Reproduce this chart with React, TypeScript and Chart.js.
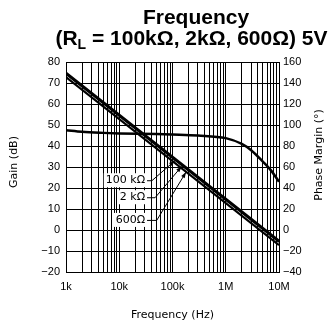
import React, { useEffect, useRef } from "react";
import { Chart, registerables } from "chart.js";

Chart.register(...registerables);

// ---- data ----
const gainFreq = [1e3, 1e4, 1e5, 1e6, 1e7];
const gain100k = [75, 55, 35, 15, -5];
const gain2k = [74.3, 54.3, 34.3, 14.3, -5.7];
const gain600 = [72.8, 52.8, 32.8, 12.8, -7.2];

const phaseFreq = [1e3, 2e3, 5e3, 1e4, 5e4, 1e5, 3e5, 1e6, 2e6, 3e6, 5e6, 7e6, 1e7];
const phaseMargin = [95, 93.5, 92.5, 92, 91.5, 91, 90, 87.5, 82, 76, 65, 57, 46];

const xMajorTicks = [1e3, 1e4, 1e5, 1e6, 1e7];
const xMajorLabels = ["1k", "10k", "100k", "1M", "10M"];
const xMinorSteps = [2, 3, 4, 5, 6, 7, 8, 9];

const gainTicks = [80, 70, 60, 50, 40, 30, 20, 10, 0, -10, -20];
const gainLabels = ["80", "70", "60", "50", "40", "30", "20", "10", "0", "\u221210", "\u221220"];
const phaseTicks = [160, 140, 120, 100, 80, 60, 40, 20, 0, -20, -40];
const phaseLabels = ["160", "140", "120", "100", "80", "60", "40", "20", "0", "\u221220", "\u221240"];

const loadLabels = ["100 k\u03a9", "2 k\u03a9", "600\u03a9"];
// annotation anchors in data coordinates (label right edge / elbow / arrow tip)
const labelFreq = [30.5e3, 30.5e3, 30.5e3];
const labelGain = [23.7, 15.6, 4.8];
const elbowFreq = [41e3, 47e3, 50.5e3];
const tipFreq = [111e3, 149e3, 180e3];
const tipGain = [33.0, 30.3, 27.6];

const TICK_FONT = "Liberation Sans";
const TEXT_FONT = "DejaVu Sans";

const textPlugin = {
  id: "customText",
  afterDatasetsDraw(chart: any) {
    const ctx: CanvasRenderingContext2D = chart.ctx;
    const xs = chart.scales.x;
    const ys = chart.scales.y;
    ctx.save();
    // annotations
    ctx.font = `11px "${TEXT_FONT}"`;
    ctx.fillStyle = "#000";
    ctx.strokeStyle = "#000";
    ctx.lineWidth = 1;
    for (let i = 0; i < loadLabels.length; i++) {
      const xr = xs.getPixelForValue(labelFreq[i]);
      const yc = ys.getPixelForValue(labelGain[i]);
      const ex = xs.getPixelForValue(elbowFreq[i]);
      const tx = xs.getPixelForValue(tipFreq[i]);
      const ty = ys.getPixelForValue(tipGain[i]);
      const w = ctx.measureText(loadLabels[i]).width;
      ctx.fillStyle = "#fff";
      ctx.fillRect(xr - w - 2, yc - 7, w + 4, 14);
      ctx.fillStyle = "#000";
      ctx.textAlign = "right";
      ctx.textBaseline = "middle";
      ctx.fillText(loadLabels[i], xr, yc);
      ctx.beginPath();
      ctx.moveTo(xr + 2, yc + 0.5);
      ctx.lineTo(ex, yc + 0.5);
      ctx.lineTo(tx, ty);
      ctx.stroke();
      const ang = Math.atan2(ty - yc, tx - ex);
      const L = 6, H = 2;
      ctx.beginPath();
      ctx.moveTo(tx, ty);
      ctx.lineTo(tx - L * Math.cos(ang) + H * Math.sin(ang), ty - L * Math.sin(ang) - H * Math.cos(ang));
      ctx.lineTo(tx - L * Math.cos(ang) - H * Math.sin(ang), ty - L * Math.sin(ang) + H * Math.cos(ang));
      ctx.closePath();
      ctx.fill();
    }
    ctx.restore();
  },
  afterDraw(chart: any) {
    const ctx: CanvasRenderingContext2D = chart.ctx;
    ctx.save();
    ctx.fillStyle = "#000";
    // title line 1
    ctx.font = `bold 21px "Liberation Sans"`;
    ctx.textAlign = "center";
    ctx.textBaseline = "alphabetic";
    ctx.fillText("Frequency", 196, 24);
    // title line 2 with subscript
    const big = `bold 21px "Liberation Sans"`;
    const small = `bold 14px "Liberation Sans"`;
    const segs = [
      { t: "(R", f: big, dy: 0 },
      { t: "L", f: small, dy: 4 },
      { t: " = 100k\u03a9, 2k\u03a9, 600\u03a9) 5V", f: big, dy: 0 },
    ];
    let total = 0;
    for (const s of segs) {
      ctx.font = s.f;
      total += ctx.measureText(s.t).width;
    }
    let x = 191.5 - total / 2;
    ctx.textAlign = "left";
    for (const s of segs) {
      ctx.font = s.f;
      ctx.fillText(s.t, x, 45 + s.dy);
      x += ctx.measureText(s.t).width;
    }
    // axis titles
    ctx.font = `11px "${TEXT_FONT}"`;
    ctx.textAlign = "center";
    ctx.textBaseline = "middle";
    ctx.save();
    ctx.translate(14, 162);
    ctx.rotate(-Math.PI / 2);
    ctx.fillText("Gain (dB)", 0, 0);
    ctx.restore();
    ctx.save();
    ctx.translate(319, 155);
    ctx.rotate(-Math.PI / 2);
    ctx.fillText("Phase Margin (\u00b0)", 0, 0);
    ctx.restore();
    ctx.textBaseline = "middle";
    ctx.fillText("Frequency (Hz)", 172.5, 315);
    ctx.restore();
  },
};

export default function App() {
  const ref = useRef<HTMLCanvasElement | null>(null);
  useEffect(() => {
    if (!ref.current) return;
    const xAll: number[] = [];
    xMajorTicks.forEach((d, i) => {
      xAll.push(d);
      if (i < xMajorTicks.length - 1) xMinorSteps.forEach((m) => xAll.push(d * m));
    });
    const chart = new Chart(ref.current, {
      type: "line",
      data: {
        datasets: [
          {
            data: gainFreq.map((f, i) => ({ x: f, y: gain100k[i] })),
            borderColor: "#000",
            borderWidth: 2,
            pointRadius: 0,
            yAxisID: "y",
          },
          {
            data: gainFreq.map((f, i) => ({ x: f, y: gain2k[i] })),
            borderColor: "#000",
            borderWidth: 2,
            pointRadius: 0,
            yAxisID: "y",
          },
          {
            data: gainFreq.map((f, i) => ({ x: f, y: gain600[i] })),
            borderColor: "#000",
            borderWidth: 2,
            pointRadius: 0,
            yAxisID: "y",
          },
          {
            data: phaseFreq.map((f, i) => ({ x: f, y: phaseMargin[i] })),
            borderColor: "#000",
            borderWidth: 2.5,
            pointRadius: 0,
            cubicInterpolationMode: "monotone",
            yAxisID: "y1",
          },
        ],
      },
      options: {
        animation: false,
        responsive: false,
        devicePixelRatio: 1,
        layout: { padding: { top: 62, left: 0, right: 0, bottom: 0 } },
        plugins: { legend: { display: false }, tooltip: { enabled: false }, title: { display: false } },
        scales: {
          x: {
            type: "logarithmic",
            min: 1e3,
            max: 1e7,
            afterBuildTicks: (scale: any) => {
              scale.ticks = xAll.map((v) => ({ value: v }));
            },
            afterFit: (scale: any) => {
              scale.height = 52;
            },
            ticks: {
              autoSkip: false,
              maxRotation: 0,
              padding: 8,
              color: "#000",
              font: { family: TICK_FONT, size: 11 },
              callback: (v: any) => {
                const idx = xMajorTicks.indexOf(Number(v));
                return idx >= 0 ? xMajorLabels[idx] : "";
              },
            },
            grid: { color: "#000", lineWidth: 1, drawTicks: false },
            border: { color: "#000", width: 1 },
          },
          y: {
            position: "left",
            min: -20,
            max: 80,
            afterBuildTicks: (scale: any) => {
              scale.ticks = gainTicks.map((v) => ({ value: v }));
            },
            afterFit: (scale: any) => {
              scale.width = 66;
            },
            ticks: {
              padding: 6,
              color: "#000",
              font: { family: TICK_FONT, size: 11 },
              callback: (v: any) => gainLabels[gainTicks.indexOf(Number(v))],
            },
            grid: { color: "#000", lineWidth: 1, drawTicks: false },
            border: { color: "#000", width: 1 },
          },
          y1: {
            position: "right",
            min: -40,
            max: 160,
            afterBuildTicks: (scale: any) => {
              scale.ticks = phaseTicks.map((v) => ({ value: v }));
            },
            afterFit: (scale: any) => {
              scale.width = 57;
            },
            ticks: {
              padding: 4,
              color: "#000",
              font: { family: TICK_FONT, size: 11 },
              callback: (v: any) => phaseLabels[phaseTicks.indexOf(Number(v))],
            },
            grid: { drawOnChartArea: false, drawTicks: false },
            border: { color: "#000", width: 1 },
          },
        },
      },
      plugins: [textPlugin],
    } as any);
    return () => chart.destroy();
  }, []);
  return (
    <div style={{ position: "absolute", left: 0, top: 0, width: 336, height: 324, background: "#fff" }}>
      <canvas ref={ref} width={336} height={324} style={{ display: "block" }} />
    </div>
  );
}
